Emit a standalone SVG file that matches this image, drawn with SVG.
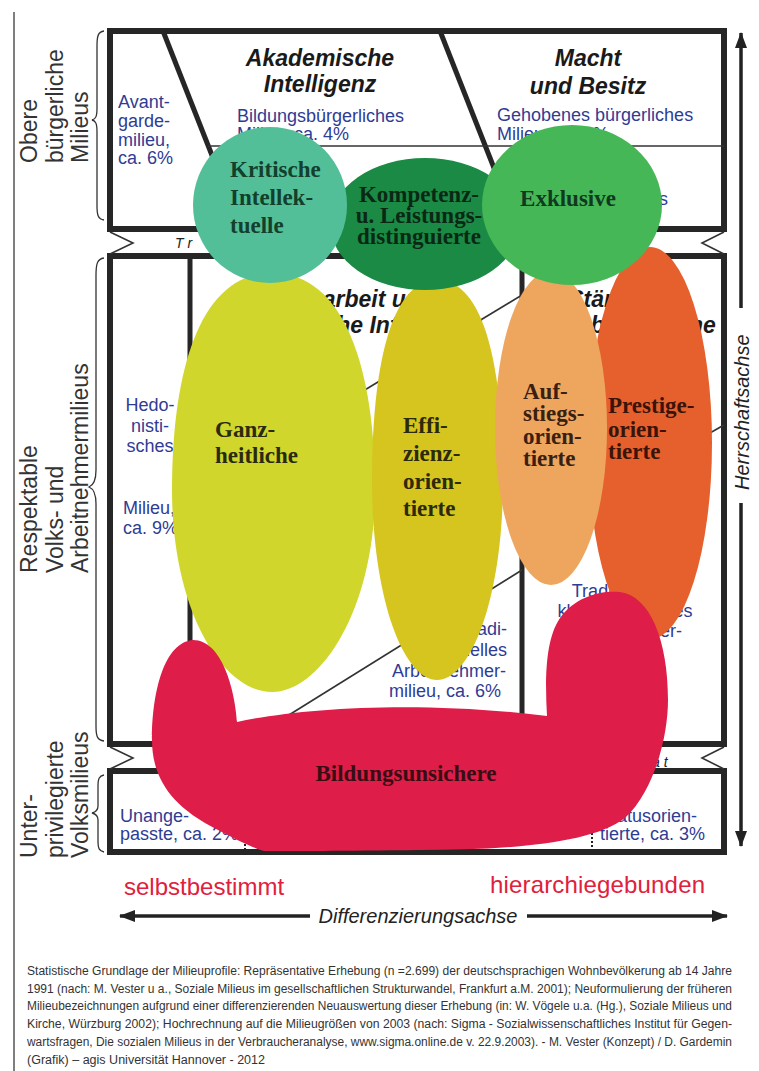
<svg xmlns="http://www.w3.org/2000/svg" width="759" height="1071" viewBox="0 0 759 1071">
<style>
.frame{fill:none;stroke:#262626;stroke-width:6}
.thick{stroke:#262626;stroke-width:5;fill:none}
.thin{stroke:#333;stroke-width:1.6;fill:none}
.brace{stroke:#333;stroke-width:1.3;fill:none}
.blue{font-family:"Liberation Sans",Arial,sans-serif;font-size:18px;fill:#2f3c94}
.head{font-family:"Liberation Sans",Arial,sans-serif;font-size:23px;font-weight:bold;font-style:italic;fill:#1a1a1a}
.side{font-family:"Liberation Sans",Arial,sans-serif;font-size:23px;fill:#333}
.lbl{font-family:"Liberation Serif","Times New Roman",serif;font-weight:bold;font-size:23px}
.band{font-family:"Liberation Sans",Arial,sans-serif;font-size:14px;font-style:italic;fill:#222}
.red{font-family:"Liberation Sans",Arial,sans-serif;font-size:24px;fill:#e0203c}
.axis{font-family:"Liberation Sans",Arial,sans-serif;font-size:20px;font-style:italic;fill:#222}
.foot{font-family:"Liberation Sans",Arial,sans-serif;font-size:12px;fill:#333}
.dot{stroke:#222;stroke-width:2;stroke-dasharray:2 2}
</style>
<defs>
<marker id="ah" viewBox="0 0 16 12" refX="15" refY="6" markerWidth="16" markerHeight="12" markerUnits="userSpaceOnUse" orient="auto"><path d="M0,0 L16,6 L0,12 z" fill="#222"/></marker>
</defs>
<rect width="759" height="1071" fill="#fff"/>
<line x1="14" y1="12" x2="14" y2="1071" stroke="#555" stroke-width="1.5"/>

<g id="frames">
<rect x="110" y="31" width="614" height="198" class="frame"/>
<rect x="110" y="256" width="614" height="488" class="frame"/>
<rect x="110" y="771" width="614" height="81" class="frame"/>
<line x1="163" y1="31" x2="241" y2="229" class="thick"/>
<line x1="440" y1="31" x2="518" y2="229" class="thick"/>
<line x1="208" y1="146" x2="724" y2="146" class="thin"/>
<line x1="190" y1="256" x2="190" y2="744" class="thick"/>
<line x1="522" y1="256" x2="522" y2="744" class="thick"/>
<line x1="330" y1="411" x2="522" y2="295" class="thin"/>
<line x1="260" y1="733" x2="522" y2="570" class="thin"/>
<line x1="680" y1="450" x2="724" y2="425" class="thin"/>
<polyline points="110,232 133,243 110,254" class="thin"/>
<polyline points="724,232 702,243 724,254" class="thin"/>
<polyline points="110,747 133,758 110,769" class="thin"/>
<polyline points="724,747 702,758 724,769" class="thin"/>
<line x1="245" y1="828" x2="245" y2="849" class="dot"/>
<line x1="592" y1="825" x2="592" y2="849" class="dot"/>
<text x="175" y="248" class="band">T  r</text>
<text x="652" y="767" class="band">ä  t</text>
</g>

<g id="side-labels">
<path d="M104,31 C98,32 97,36 97,46 L97,108 C97,116 96,119 92,120 C96,121 97,124 97,132 L97,206 C97,215 98,219 104,220" class="brace"/>
<path d="M104,258 C97,259 96,264 96,276 L96,470 C96,480 94,485 89,487 C94,489 96,494 96,504 L96,726 C96,736 97,740 104,741" class="brace"/>
<path d="M104,775 C99,776 98,779 98,786 L98,806 C98,810 96,812 92,813 C96,814 98,816 98,820 L98,842 C98,848 99,851 104,852" class="brace"/>
<g class="side">
<text transform="translate(37,163) rotate(-90)">Obere</text>
<text transform="translate(62.5,163) rotate(-90)">bürgerliche</text>
<text transform="translate(88,163) rotate(-90)">Milieus</text>
<text transform="translate(37,573) rotate(-90)">Respektable</text>
<text transform="translate(62.5,573) rotate(-90)">Volks- und</text>
<text transform="translate(88,573) rotate(-90)">Arbeitnehmermilieus</text>
<text transform="translate(37,858) rotate(-90)">Unter-</text>
<text transform="translate(62.5,858) rotate(-90)">privilegierte</text>
<text transform="translate(88,858) rotate(-90)">Volksmilieus</text>
</g>
</g>

<g id="box-texts">
<text class="head" x="320" y="66" text-anchor="middle">Akademische</text>
<text class="head" x="320" y="92" text-anchor="middle">Intelligenz</text>
<text class="head" x="588" y="66" text-anchor="middle">Macht</text>
<text class="head" x="588" y="94" text-anchor="middle">und Besitz</text>
<text class="blue" x="118" y="108">Avant-</text>
<text class="blue" x="118" y="127">garde-</text>
<text class="blue" x="118" y="146">milieu,</text>
<text class="blue" x="118" y="164">ca. 6%</text>
<text class="blue" x="237" y="122">Bildungsbürgerliches</text>
<text class="blue" x="237" y="140">Milieu, ca. 4%</text>
<text class="blue" x="497" y="121">Gehobenes bürgerliches</text>
<text class="blue" x="497" y="140">Milieu, ca. 4%</text>
<text class="blue" x="659" y="205">s</text>
<text class="head" x="269" y="307">Facharbeit und</text>
<text class="head" x="248" y="333">praktische Intelligenz</text>
<text class="head" x="627" y="307" text-anchor="middle">Ständisch-</text>
<text class="head" x="627" y="333" text-anchor="middle">kleinbürgerliche</text>
<text class="blue" x="150" y="411" text-anchor="middle">Hedo-</text>
<text class="blue" x="150" y="432" text-anchor="middle">nisti-</text>
<text class="blue" x="150" y="452" text-anchor="middle">sches</text>
<text class="blue" x="123" y="514">Milieu,</text>
<text class="blue" x="123" y="534">ca. 9%</text>
<text class="blue" x="507" y="635" text-anchor="end">Tradi-</text>
<text class="blue" x="507" y="656" text-anchor="end">tionelles</text>
<text class="blue" x="506" y="677" text-anchor="end">Arbeitnehmer-</text>
<text class="blue" x="501" y="697" text-anchor="end">milieu, ca. 6%</text>
<text class="blue" x="625" y="597" text-anchor="middle">Traditionelles</text>
<text class="blue" x="625" y="617" text-anchor="middle">kleinbürgerliches</text>
<text class="blue" x="625" y="637" text-anchor="middle">Arbeitnehmer-</text>
<text class="blue" x="120" y="822">Unange-</text>
<text class="blue" x="120" y="840">passte, ca. 2%</text>
<text class="blue" x="600" y="822">Statusorien-</text>
<text class="blue" x="600" y="840">tierte, ca. 3%</text>
</g>

<g id="ganzheitliche">
<path d="M272,273 C345,273 375,370 375,490 C375,610 320,692 272,692 C222,692 172,610 172,490 C172,370 200,273 272,273 Z" fill="#d0d62b"/>
<text class="lbl" x="215" y="437" fill="#2a2a10">Ganz-</text>
<text class="lbl" x="215" y="463" fill="#2a2a10">heitliche</text>
</g>
<g id="effizienz">
<path d="M437,280 C485,280 503,370 503,480 C503,600 470,680 437,680 C404,680 372,600 372,480 C372,370 390,280 437,280 Z" fill="#d6c51e"/>
<text class="lbl" x="403" y="433" fill="#2d2a0a">Effi-</text>
<text class="lbl" x="403" y="461" fill="#2d2a0a">zienz-</text>
<text class="lbl" x="403" y="489" fill="#2d2a0a">orien-</text>
<text class="lbl" x="403" y="516" fill="#2d2a0a">tierte</text>
</g>
<g id="prestige">
<ellipse cx="650" cy="443" rx="62" ry="196" fill="#e6602d"/>
<text class="lbl" x="608" y="413" font-size="19" fill="#3a1408">Prestige-</text>
<text class="lbl" x="608" y="437" font-size="19" fill="#3a1408">orien-</text>
<text class="lbl" x="608" y="459" font-size="19" fill="#3a1408">tierte</text>
</g>
<g id="aufstiegs">
<ellipse cx="551" cy="428" rx="56" ry="157" fill="#eea65e"/>
<text class="lbl" x="523" y="399" font-size="19" fill="#3a2010">Auf-</text>
<text class="lbl" x="523" y="421" font-size="19" fill="#3a2010">stiegs-</text>
<text class="lbl" x="523" y="444" font-size="19" fill="#3a2010">orien-</text>
<text class="lbl" x="523" y="466" font-size="19" fill="#3a2010">tierte</text>
</g>
<g id="kompetenz">
<ellipse cx="425" cy="224" rx="95" ry="66" fill="#1a8a45"/>
<text class="lbl" x="419" y="202" font-size="18" text-anchor="middle" fill="#0a2814">Kompetenz-</text>
<text class="lbl" x="419" y="223" font-size="18" text-anchor="middle" fill="#0a2814">u. Leistungs-</text>
<text class="lbl" x="419" y="244" font-size="18" text-anchor="middle" fill="#0a2814">distinguierte</text>
</g>
<g id="kritische">
<ellipse cx="270" cy="205" rx="77" ry="78" fill="#52bf99"/>
<text class="lbl" x="230" y="177" fill="#133f2c">Kritische</text>
<text class="lbl" x="230" y="205" fill="#133f2c">Intellek-</text>
<text class="lbl" x="230" y="233" fill="#133f2c">tuelle</text>
</g>
<g id="exklusive">
<ellipse cx="572" cy="205" rx="90" ry="80" fill="#46b757"/>
<text class="lbl" x="568" y="206" text-anchor="middle" fill="#0f3a1e">Exklusive</text>
</g>
<g id="bildungsunsichere">
<path d="M237,722 C300,708 420,700 547,716 C545,680 545,640 560,618 C575,597 600,590 620,592 C650,596 668,640 668,700 C668,735 655,790 625,818 C590,845 500,850 420,850 C340,851 295,851 265,851 C258,850 236,840 205,823 C180,808 152,785 152,740 C152,690 165,642 193,640 C222,640 235,690 237,722 Z" fill="#de1d48"/>
<text class="lbl" x="406" y="781" font-size="22" text-anchor="middle" fill="#3a0d14">Bildungsunsichere</text>
</g>

<g id="connectors">
<line x1="741" y1="308" x2="741" y2="33" stroke="#222" stroke-width="3.5" marker-end="url(#ah)"/>
<line x1="741" y1="503" x2="741" y2="846" stroke="#222" stroke-width="3.5" marker-end="url(#ah)"/>
<line x1="310" y1="916" x2="120" y2="916" stroke="#222" stroke-width="3.5" marker-end="url(#ah)"/>
<line x1="527" y1="916" x2="727" y2="916" stroke="#222" stroke-width="3.5" marker-end="url(#ah)"/>
</g>
<g id="axis-labels">
<text class="axis" transform="translate(749,490) rotate(-90)" font-size="19.5">Herrschaftsachse</text>
<text class="axis" x="418" y="923" text-anchor="middle">Differenzierungsachse</text>
<text class="red" x="124" y="895">selbstbestimmt</text>
<text class="red" x="490" y="893" textLength="215">hierarchiegebunden</text>
</g>

<g id="footer" class="foot">
<text x="27" y="975" textLength="705" lengthAdjust="spacingAndGlyphs">Statistische Grundlage der Milieuprofile: Repräsentative Erhebung (n =2.699) der deutschsprachigen Wohnbevölkerung ab 14 Jahre</text>
<text x="27" y="993" textLength="705" lengthAdjust="spacingAndGlyphs">1991 (nach: M. Vester u a., Soziale Milieus im gesellschaftlichen Strukturwandel, Frankfurt a.M. 2001); Neuformulierung der früheren</text>
<text x="27" y="1010" textLength="705" lengthAdjust="spacingAndGlyphs">Milieubezeichnungen aufgrund einer differenzierenden Neuauswertung dieser Erhebung (in: W. Vögele u.a. (Hg.), Soziale Milieus und</text>
<text x="27" y="1028" textLength="705" lengthAdjust="spacingAndGlyphs">Kirche, Würzburg 2002); Hochrechnung auf die Milieugrößen von 2003 (nach: Sigma - Sozialwissenschaftliches Institut für Gegen-</text>
<text x="27" y="1046" textLength="705" lengthAdjust="spacingAndGlyphs">wartsfragen, Die sozialen Milieus in der Verbraucheranalyse, www.sigma.online.de v. 22.9.2003). - M. Vester (Konzept) / D. Gardemin</text>
<text x="27" y="1064" textLength="238" lengthAdjust="spacingAndGlyphs">(Grafik) – agis  Universität Hannover - 2012</text>
</g>
</svg>
